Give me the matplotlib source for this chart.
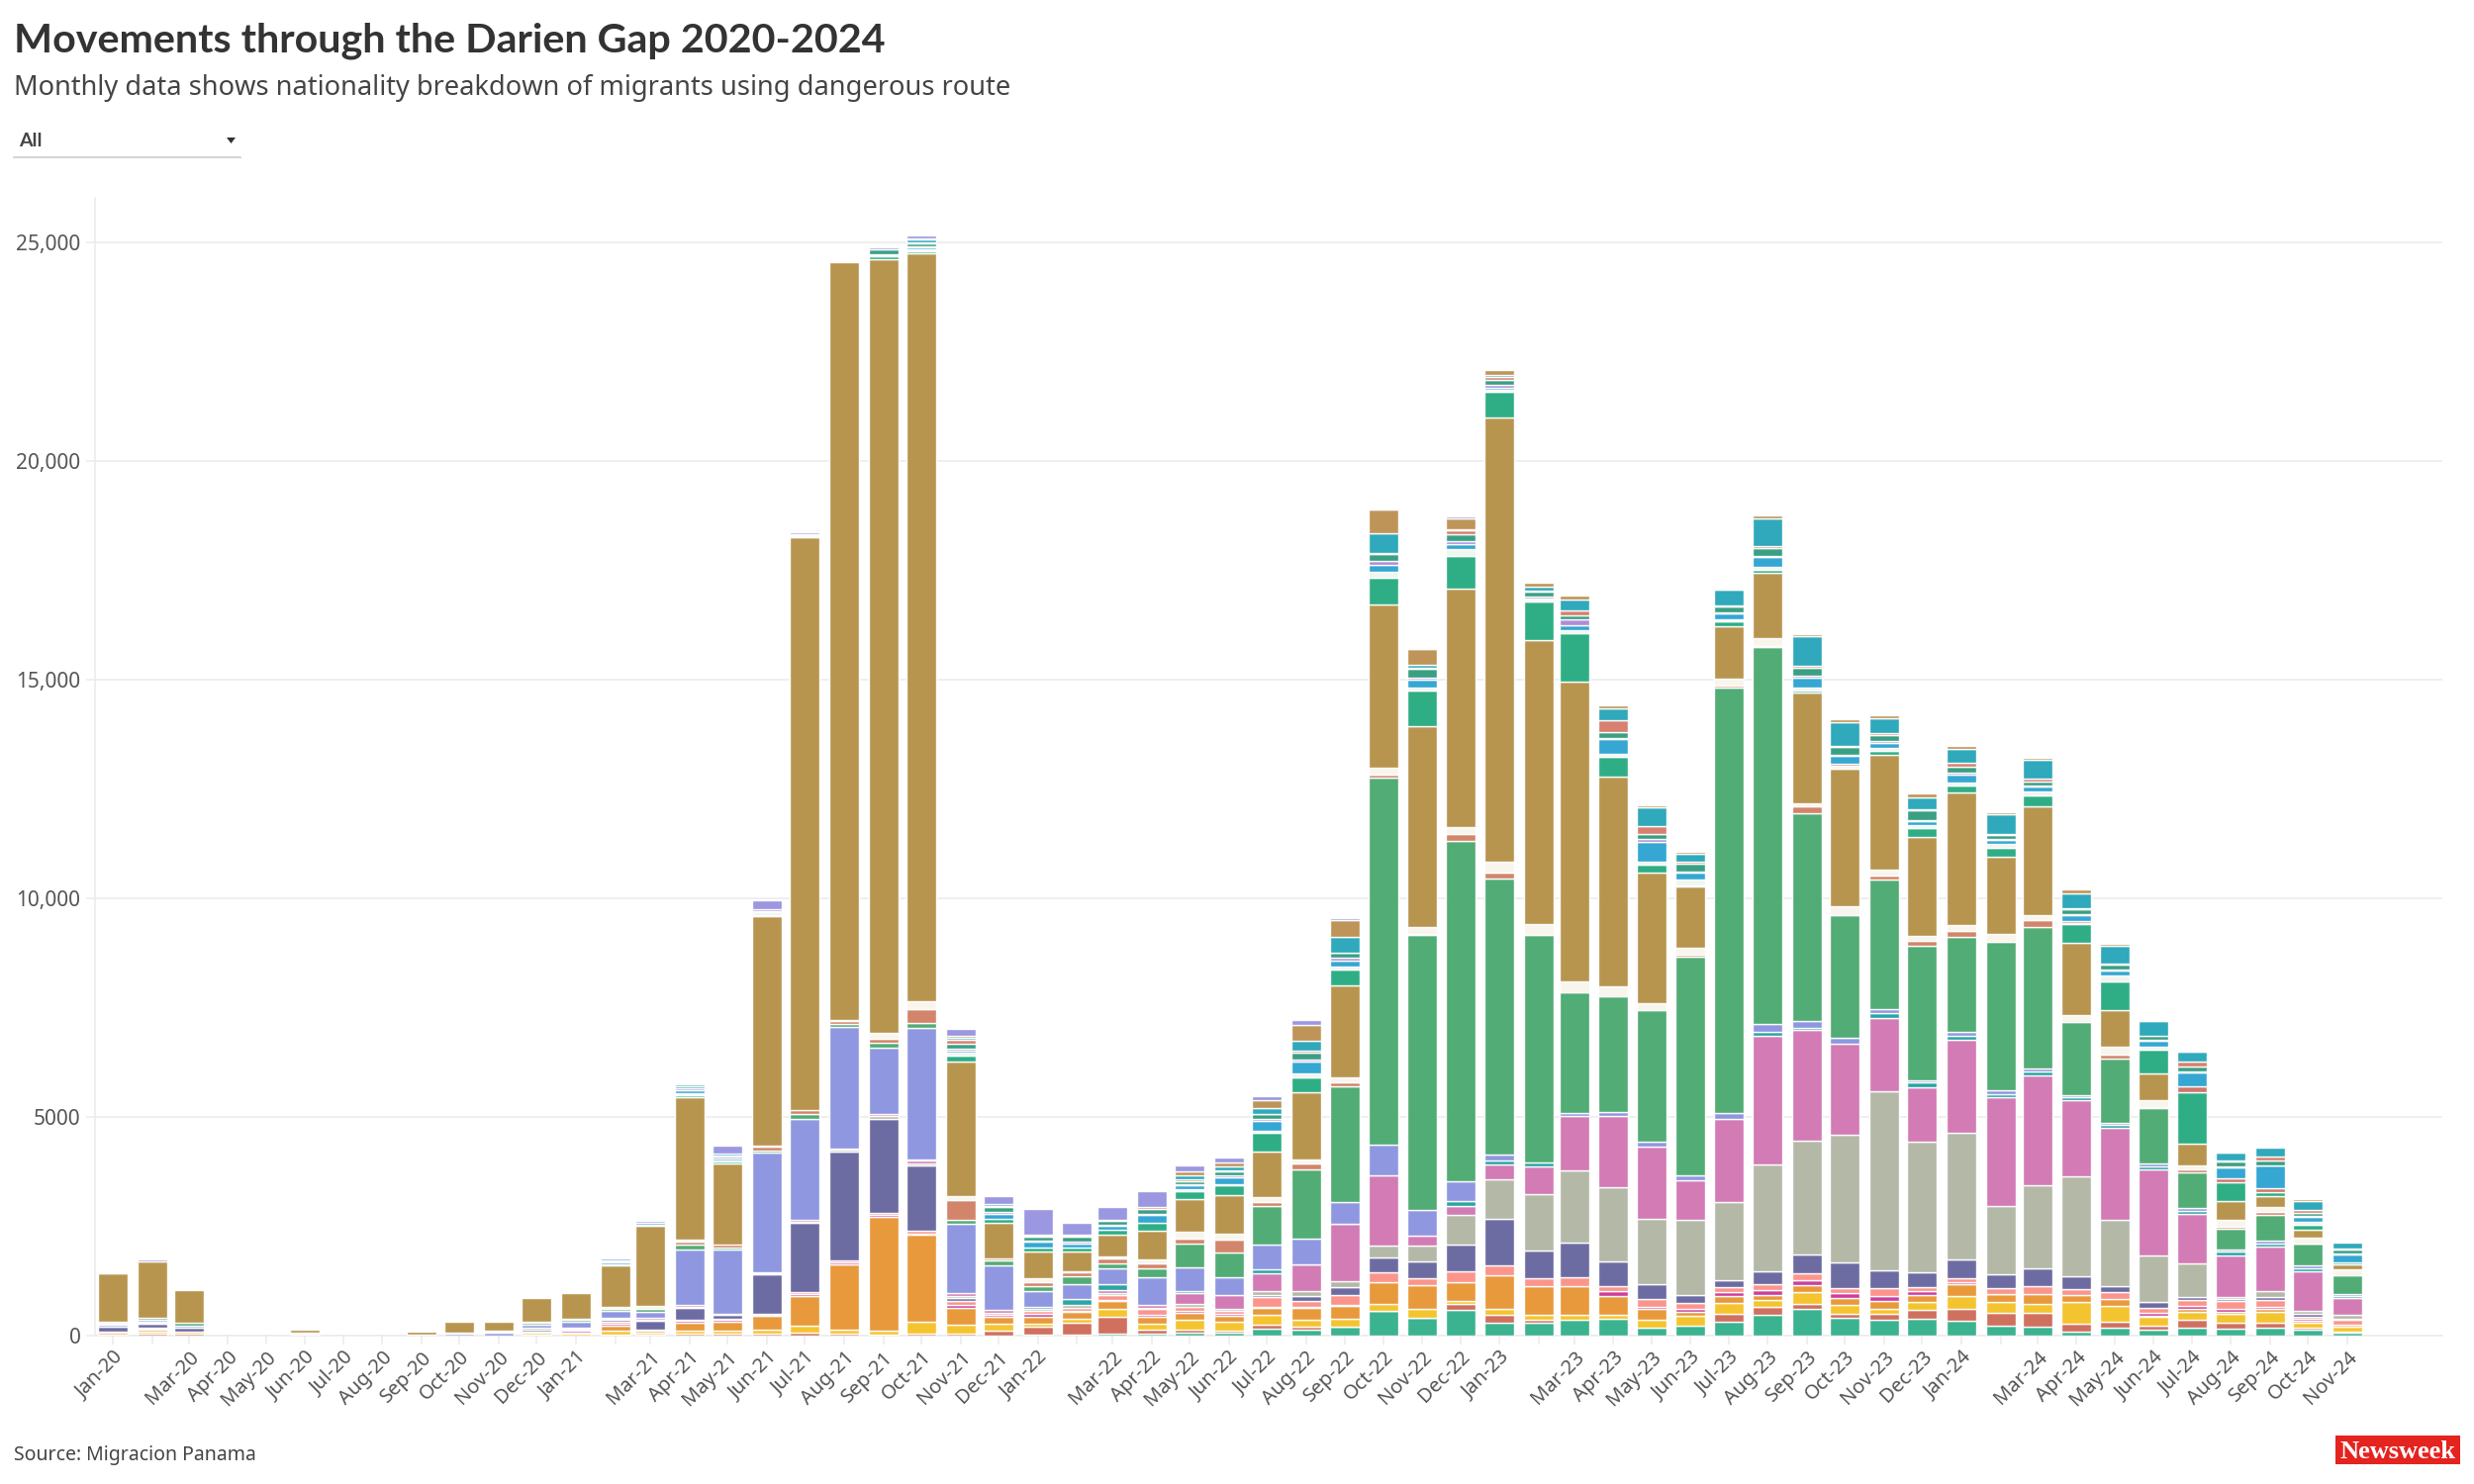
import numpy as np
import pandas as pd
import matplotlib
matplotlib.use("Agg")
import matplotlib.pyplot as plt
import matplotlib.dates as mdates
from matplotlib.colors import to_rgb
from matplotlib.patches import Rectangle, Polygon
from matplotlib.lines import Line2D
from matplotlib.transforms import ScaledTranslation

FONT = "Noto Sans"
plt.rcParams["font.family"] = [FONT, "DejaVu Sans"]

# stack order, bottom to top (nationality names are not shown in the picture)
series_colors = [
    "#3CB391", "#D0705F", "#F4C430", "#E8993C", "#CC3F9B",
    "#FB958B", "#6D6CA2", "#B4B8A8", "#D27BB5", "#2AA5A5",
    "#8F97E0", "#52AC75", "#D2856A", "#F8F5EE", "#B8954F",
    "#2FAE85", "#F0F5F0", "#D0766A", "#35A8D3", "#B08BD8",
    "#3AA083", "#D8806F", "#2FAABC", "#C09458", "#9B97E0",
]

quiet = [0] * 25
jan_20 = [0,0,20,50,0, 30,100,0,0,0, 40,40,0,30,1110, 0,0,0,0,0, 0,0,0,0,20]
feb_20 = [0,40,40,45,25, 25,90,30,30,0, 40,40,0,0,1282, 0,0,0,0,0, 0,0,0,0,53]
mar_20 = [0,40,40,0,0, 0,105,0,0,0, 50,50,0,0,745, 0,0,0,0,0, 0,0,0,0,0]
apr_20 = quiet
may_20 = quiet
jun_20 = [0,0,0,0,0, 0,0,0,0,0, 30,0,0,30,80, 0,0,0,0,0, 0,0,0,0,0]
jul_20 = quiet
aug_20 = quiet
sep_20 = [0,0,0,0,0, 0,0,0,0,0, 0,0,0,30,50, 0,0,0,0,0, 0,0,0,0,0]
oct_20 = [0,0,0,0,0, 0,0,0,0,0, 35,0,0,35,240, 0,0,0,0,0, 0,0,0,0,0]
nov_20 = [0,0,0,0,0, 0,0,0,0,0, 60,0,0,50,215, 0,0,0,0,0, 0,0,0,0,0]
dec_20 = [0,30,30,40,0, 0,40,30,0,0, 85,30,0,25,550, 0,0,0,0,0, 0,0,0,0,0]
jan_21 = [0,0,35,35,35, 0,30,25,25,0, 136,30,0,30,588, 0,0,0,0,0, 0,0,0,0,0]
feb_21 = [0,30,75,128,35, 40,53,25,20,0, 166,45,0,45,942, 30,0,0,30,30, 30,0,0,0,30]
mar_21 = [0,30,40,40,0, 25,204,30,30,0, 150,60,0,60,1840, 35,0,0,35,35, 0,0,0,0,30]
apr_21 = [0,38,83,173,40, 35,256,34,34,0, 1274,120,60,40,3257, 53,40,0,68,60, 40,0,40,0,30]
may_21 = [0,38,83,200,30, 30,90,20,0,0, 1478,50,63,0,1850, 40,40,0,40,40, 30,0,38,0,181]
jun_21 = [0,38,105,300,30, 30,900,25,25,0, 2729,60,80,20,5240, 40,50,0,40,48, 0,0,0,0,200]
jul_21 = [0,60,158,694,40, 35,1583,40,40,0, 2315,95,100,0,13100, 25,25,0,25,25, 25,25,0,0,30]
aug_21 = [0,38,98,1500,40, 40,2490,40,30,0, 2790,70,50,20,17340, 0,0,0,0,0, 0,0,0,0,0]
sep_21 = [0,30,83,2609,40, 40,2164,50,55,0, 1515,100,110,130,17700, 50,0,0,30,30, 110,0,0,0,40]
oct_21 = [0,38,286,1975,40, 70,1478,60,60,30, 3000,120,300,190,17100, 60,40,0,30,30, 60,30,60,40,70]
nov_21 = [0,53,188,400,60, 100,65,40,59,0, 1598,76,452,91,3076, 143,60,0,60,50, 113,90,40,40,150]
dec_21 = [0,120,158,158,38, 45,0,0,75,0, 1003,113,60,0,804, 98,0,0,120,25, 128,25,35,0,196]
jan_22 = [22,181,75,158,53, 75,0,53,0,38, 362,113,100,81,618, 90,0,0,136,15, 90,23,30,0,588]
feb_22 = [22,279,90,151,23, 60,0,68,0,143, 332,188,100,21,445, 98,0,0,90,38, 113,30,23,0,264]
mar_22 = [38,392,189,173,30, 98,0,60,61,136, 354,128,100,51,498, 106,0,0,90,23, 90,38,0,0,287]
apr_22 = [38,98,128,158,60, 121,0,40,59,0, 641,204,100,104,656, 181,0,0,166,38, 113,38,0,0,354]
may_22 = [70,70,225,160,40, 100,0,70,240,40, 550,530,120,150,755, 180,40,0,100,30, 70,40,80,100,140]
jun_22 = [75,38,210,128,45, 75,0,45,302,0, 415,565,300,122,882, 241,25,0,150,45, 90,30,83,98,105]
jul_22 = [166,83,219,166,15, 226,60,90,407,83, 558,882,100,111,1033, 445,45,0,226,30, 113,15,121,196,83]
aug_22 = [136,68,151,287,8, 151,106,113,603,15, 588,1583,120,99,1546, 339,83,0,279,45, 151,38,234,370,98]
sep_22 = [196,8,188,294,8, 226,188,136,1312,8, 483,2654,90,114,2111, 354,75,0,136,53, 113,15,362,385,38]
oct_22 = [565,8,158,498,0, 226,324,279,1606,0, 694,8412,60,160,3740, 596,151,0,158,75, 173,15,452,535,38]
nov_22 = [400,8,196,558,0, 158,369,369,226,0, 580,6296,30,154,4582, 833,60,0,180,40, 210,30,60,360,20]
dec_22 = [596,136,60,437,0, 241,603,686,204,121, 437,7789,150,166,5452, 754,158,0,106,75, 151,83,38,256,23]
jan_23 = [294,173,136,777,0, 219,1071,912,324,98, 143,6311,120,257,10165, 573,45,0,60,75, 106,75,38,113,0]
feb_23 = [287,68,121,656,0, 173,641,1297,626,98, 0,5195,0,249,6499, 867,45,0,30,53, 98,23,98,98,0]
mar_23 = [362,0,113,664,0, 189,792,1666,1244,0, 60,2757,0,248,6869, 1109,60,0,121,121, 106,106,256,90,0]
apr_23 = [385,0,83,445,106, 121,558,1689,1629,0, 98,2654,0,226,4788, 445,83,0,332,30, 136,256,279,75,0]
may_23 = [189,0,173,241,45, 181,347,1500,1636,0, 113,3017,0,151,3001, 176,70,0,460,60, 110,190,419,45,0]
jun_23 = [234,0,211,106,60, 136,173,1727,897,0, 113,5014,30,160,1410, 30,120,0,166,30, 170,40,200,30,0]
jul_23 = [324,181,249,158,90, 106,151,1795,1892,0, 151,9727,50,153,1184, 119,60,0,128,30, 130,30,361,23,0]
aug_23 = [483,173,158,121,113, 128,294,2435,2956,90, 180,8614,30,166,1508, 60,60,0,226,30, 190,30,640,76,0]
sep_23 = [618,113,264,151,121, 151,437,2601,2541,43, 160,4751,148,77,2526, 60,60,0,230,30, 200,30,690,42,0]
oct_23 = [407,98,189,166,121, 113,573,2933,2066,0, 143,2805,0,203,3152, 0,60,45,180,30, 170,30,540,68,0]
nov_23 = [369,128,121,173,106, 181,422,4087,1682,100, 96,2963,100,118,2624, 90,80,0,120,30, 150,45,330,75,0]
dec_23 = [392,196,189,158,83, 90,347,2978,1237,121, 45,3076,120,106,2262, 204,60,0,100,30, 210,30,270,92,0]
jan_24 = [332,271,302,264,45, 106,415,2910,2119,83, 106,2170,136,128,3039, 143,70,0,200,30, 130,90,330,61,0]
feb_24 = [226,302,234,181,15, 128,309,1561,2488,83, 83,3400,0,174,1772, 188,91,0,90,30, 83,30,445,61,0]
mar_24 = [211,317,189,226,0, 181,422,1885,2526,75, 75,3243,150,113,2489, 249,90,0,106,30, 90,61,429,53,0]
apr_24 = [90,173,505,166,0, 136,279,2300,1734,60, 60,1675,0,158,1637, 429,30,45,130,30, 110,30,340,77,0]
may_24 = [189,128,362,158,0, 151,151,1516,2089,75, 38,1478,100,180,830, 663,121,0,113,30, 113,30,407,46,0]
jun_24 = [136,90,211,20,60, 121,121,1071,1960,83, 60,1274,30,143,618, 535,75,0,136,30, 90,0,324,38,0]
jul_24 = [189,166,196,60,68, 128,83,762,1123,75, 60,822,75,90,490, 1169,0,143,317,15, 113,128,211,23,0]
aug_24 = [166,128,196,55,58, 189,38,60,942,83, 60,460,53,151,430, 437,0,90,249,30, 98,30,189,23,0]
sep_24 = [173,128,241,60,53, 151,75,136,1018,60, 75,581,75,113,241, 98,0,98,505,15, 98,98,204,0,0]
oct_24 = [136,53,113,38,38, 60,53,75,905,75, 53,498,15,136,166, 113,75,0,106,30, 68,75,204,38,0]
nov_24 = [75,15,106,45,15, 98,38,90,369,53, 38,430,0,151,106, 53,0,0,181,15, 90,15,136,0,0]

months = [
    jan_20, feb_20, mar_20, apr_20, may_20, jun_20, jul_20, aug_20, sep_20, oct_20, nov_20, dec_20,
    jan_21, feb_21, mar_21, apr_21, may_21, jun_21, jul_21, aug_21, sep_21, oct_21, nov_21, dec_21,
    jan_22, feb_22, mar_22, apr_22, may_22, jun_22, jul_22, aug_22, sep_22, oct_22, nov_22, dec_22,
    jan_23, feb_23, mar_23, apr_23, may_23, jun_23, jul_23, aug_23, sep_23, oct_23, nov_23, dec_23,
    jan_24, feb_24, mar_24, apr_24, may_24, jun_24, jul_24, aug_24, sep_24, oct_24, nov_24,
]
dates = pd.date_range("2020-01-01", "2024-11-01", freq="MS")
tick_labels = [d.strftime("%b-%y") if d.month != 2 else "" for d in dates]
y_ticks = [0, 5000, 10000, 15000, 20000, 25000]
y_labels = ["0", "5000", "10,000", "15,000", "20,000", "25,000"]

W, H = 2500, 1500
fig = plt.figure(figsize=(W / 100, H / 100), dpi=100, facecolor="white")
L, R, T, B = 96, 2468, 200, 1350
ax = fig.add_axes([L / W, 1 - B / H, (R - L) / W, (B - T) / H])

GRID = "#EBEBEB"
ALPHA = 0.96
table = np.array(months, dtype=float)
x = mdates.date2num(dates)
bottom = np.zeros(len(x))
for k, col in enumerate(series_colors):
    v = table[:, k]
    m = v > 0
    # the listed colours are the ones seen on white, so undo the translucency
    solid = tuple(np.clip((np.array(to_rgb(col)) - (1 - ALPHA)) / ALPHA, 0, 1))
    ax.bar(x[m], v[m], bottom=bottom[m], width=23.5, color=solid, alpha=ALPHA,
           edgecolor="white", linewidth=1.0, zorder=3)
    bottom += v

px_per_day = 1.2786
x0 = mdates.date2num(pd.Timestamp("2020-01-01"))
ax.set_xlim(x0 - (114 - L) / px_per_day, x0 + (R - 114) / px_per_day)
ax.set_ylim(0, (B - T) * 5000 / 221)

ax.set_yticks(y_ticks)
ax.set_yticklabels(y_labels)
ax.set_xticks(x)
ax.set_xticklabels(tick_labels, rotation=45, ha="right", va="top", rotation_mode="anchor")
offset = ScaledTranslation(-4 / 100, 0, fig.dpi_scale_trans)
for t in ax.get_xticklabels():
    t.set_transform(t.get_transform() + offset)
ax.tick_params(axis="x", length=6.5, width=1.1, color=GRID, labelsize=14.5, labelcolor="#555555", pad=2)
ax.tick_params(axis="y", length=6.5, width=1.1, color=GRID, labelsize=15, labelcolor="#555555", pad=4)
ax.yaxis.grid(True, color=GRID, linewidth=1.1, zorder=0)
ax.set_axisbelow(True)
for s in ("top", "right"):
    ax.spines[s].set_visible(False)
for s in ("left", "bottom"):
    ax.spines[s].set_color(GRID)
    ax.spines[s].set_linewidth(1.1)


def fx(px):
    return px / W


def fy(py):
    return 1 - py / H


fig.text(fx(14), fy(52), "Movements through the Darien Gap 2020-2024", fontsize=29.7,
         fontweight="bold", family=["Lato", "DejaVu Sans"], color="#333333", va="baseline", ha="left")
fig.text(fx(14), fy(96), "Monthly data shows nationality breakdown of migrants using dangerous route",
         fontsize=19.6, color="#444444", va="baseline", ha="left")
fig.text(fx(19), fy(148), "All", fontsize=14, fontweight="bold", family=["Lato", "DejaVu Sans"],
         color="#444444", va="baseline", ha="left")
fig.add_artist(Line2D([fx(14), fx(243)], [fy(159), fy(159)], color="#CCCCCC", linewidth=1.2,
                      transform=fig.transFigure))
fig.add_artist(Polygon([[fx(229), fy(139)], [fx(238), fy(139)], [fx(233.5), fy(145)]], closed=True,
                       facecolor="#333333", edgecolor="none", transform=fig.transFigure))
fig.text(fx(14), fy(1476), "Source: Migracion Panama", fontsize=14, color="#444444", va="baseline", ha="left")
fig.add_artist(Rectangle((fx(2360), fy(1480)), 126 / W, 29 / H, facecolor="#E5231F", edgecolor="none",
                         transform=fig.transFigure))
fig.text(fx(2423), fy(1474), "Newsweek", fontsize=19, fontweight="bold", family=["Liberation Serif", "DejaVu Serif"],
         color="white", ha="center", va="baseline")

fig.savefig("out.png", dpi=100, facecolor="white")
